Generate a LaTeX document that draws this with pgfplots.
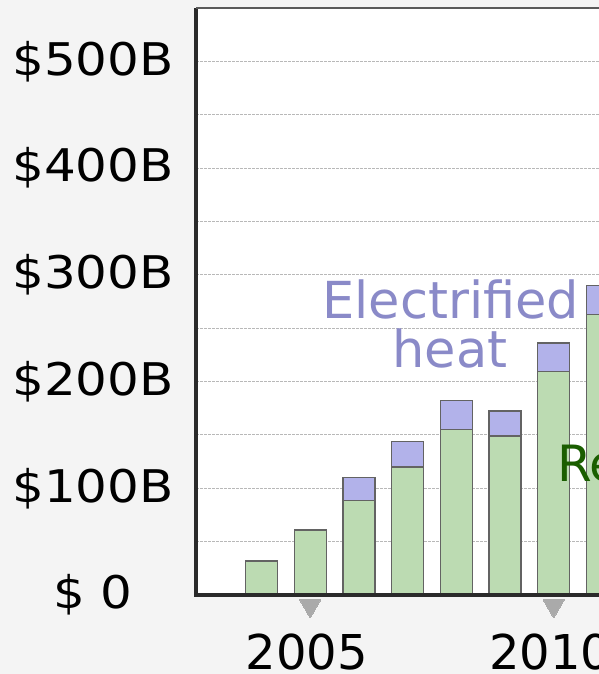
\documentclass[border=0pt]{standalone}
\usepackage{pgfplots}
\pgfplotsset{compat=1.18}
\usepackage{fontspec}
\setmainfont{DejaVu Sans}
\newfontfamily\ylabfont[FakeStretch=1.11]{DejaVu Sans}
\definecolor{bgc}{HTML}{F4F4F4}
\definecolor{greenc}{HTML}{BCDBB2}
\definecolor{purpc}{HTML}{B2B2EA}
\definecolor{barc}{HTML}{636363}
\definecolor{heatc}{HTML}{8A8AC8}
\definecolor{rec}{HTML}{1A5E00}
\definecolor{tric}{HTML}{AAAAAA}
\definecolor{gridc}{HTML}{B8B8B8}
\definecolor{axc}{HTML}{2A2A2A}
\definecolor{topc}{HTML}{5A5A5A}
\begin{document}
\begin{tikzpicture}
\fill[bgc] (0,0) rectangle (449.25pt,505.5pt);
\useasboundingbox (0,0) rectangle (449.25pt,505.5pt);
\clip (0,0) rectangle (449.25pt,505.5pt);
\begin{axis}[
  at={(147pt,59.25pt)}, anchor=south west,
  x=36.525pt, y=0.8005pt,
  xmin=2002.655, xmax=2016, ymin=0, ymax=550,
  axis background/.style={fill=white},
  axis line style={draw=none},
  ybar stacked, bar width=24pt,
  ytick={0,100,200,300,400,500},
  yticklabels={\$ 0,\$100B,\$200B,\$300B,\$400B,\$500B},
  minor ytick={50,150,250,350,450},
  ymajorgrids, yminorgrids,
  major grid style={gridc, line width=0.6pt, dash pattern=on 2pt off 1pt},
  minor grid style={gridc, line width=0.6pt, dash pattern=on 2pt off 1pt},
  major tick length=0pt, minor tick length=0pt,
  xtick={2005,2010,2015}, xticklabels={2005,2010,2015},
  yticklabel style={font=\ylabfont\fontsize{33.75}{40}\selectfont, anchor=center, xshift=-77.25pt},
  xticklabel style={font=\fontsize{36}{43}\selectfont, anchor=center, yshift=-42.8pt, xshift=-2.6pt},
  clip=false,
]
\addplot[fill=greenc, draw=barc, line width=1pt] coordinates {(2004,32) (2005,61) (2006,88.6) (2007,120) (2008,155.3) (2009,149) (2010,209.4) (2011,263)};
\addplot[fill=purpc, draw=barc, line width=1pt] coordinates {(2004,0) (2005,0) (2006,21.4) (2007,23.7) (2008,26.7) (2009,23.4) (2010,26.8) (2011,27)};
\end{axis}
\begin{axis}[
  at={(147pt,59.25pt)}, anchor=south west,
  x=36.525pt, y=0.8005pt,
  xmin=2002.655, xmax=2016, ymin=0, ymax=550,
  hide axis, clip=false,
]
\addplot[only marks, mark=triangle*, mark size=9pt, mark options={rotate=180, fill=tric, draw=tric, line width=0pt}] coordinates {(2005,-10.3) (2010,-10.3) (2015,-10.3)};
\draw[line width=2.4pt, draw=axc] (rel axis cs:0,1) -- (rel axis cs:0,0) -- (rel axis cs:1,0);
\draw[line width=1.5pt, draw=topc] (rel axis cs:0,1) -- (rel axis cs:1,1);
\node[text=heatc, font=\fontsize{38.25}{46}\selectfont, anchor=base, inner sep=0pt] at (axis cs:2007.89,259.5) {Electrified};
\node[text=heatc, font=\fontsize{38.25}{46}\selectfont, anchor=base, inner sep=0pt] at (axis cs:2007.87,213.6) {heat};
\node[text=rec, font=\fontsize{37.5}{45}\selectfont, anchor=base west, inner sep=0pt, outer sep=0pt] at (axis cs:2010.07,106) {Renewables};
\end{axis}
\end{tikzpicture}
\end{document}
